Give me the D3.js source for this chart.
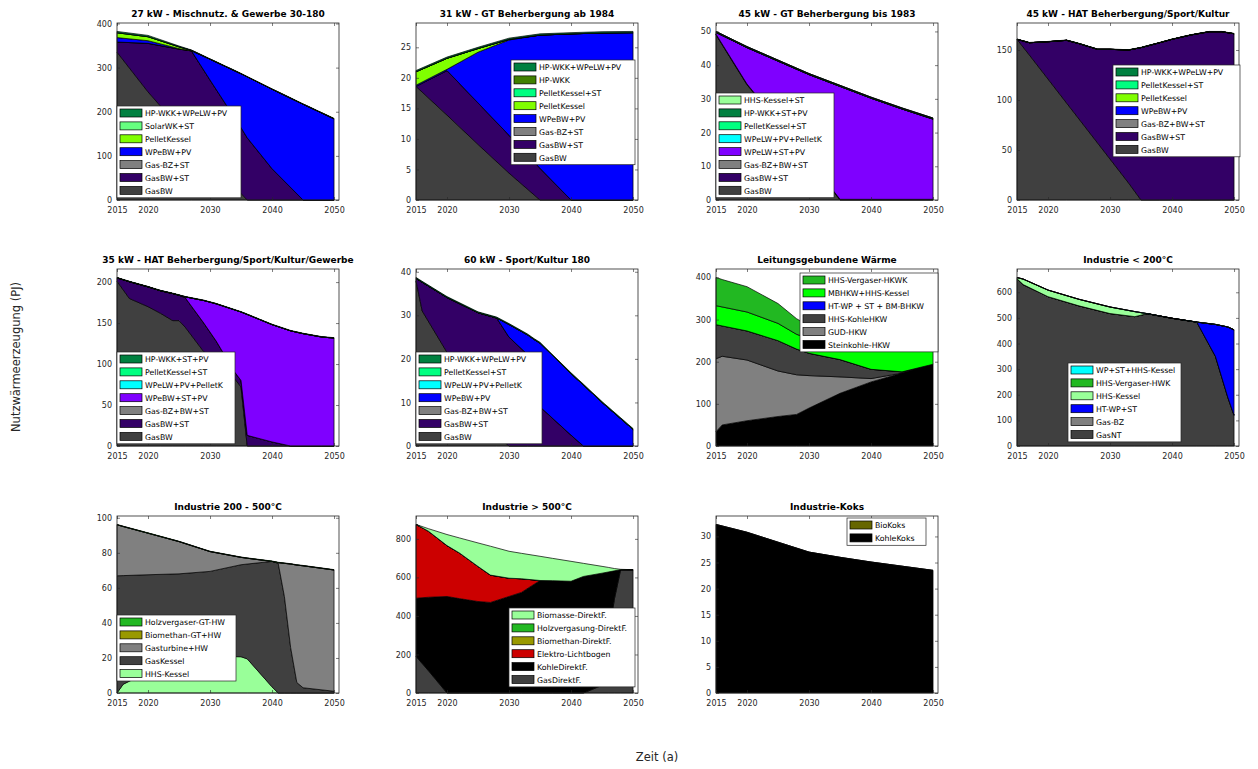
<!DOCTYPE html>
<html><head><meta charset="utf-8">
<script src="https://cdn.jsdelivr.net/npm/d3@7"></script>
<style>
body{margin:0;background:#fff;}
svg{display:block;}
text{font-family:"DejaVu Sans","Liberation Sans",sans-serif;}
</style>
</head><body>
<svg id="chart" width="1258" height="769"></svg>
<script>
// ---------------- DATA (stack order: bottom first) ----------------
const xTicks = [2015, 2020, 2030, 2040, 2050];

// Panel 1
const p1Title = "27 kW - Mischnutz. & Gewerbe 30-180";
const p1Years = [2015, 2020, 2025, 2027, 2030, 2035, 2036, 2040, 2045, 2050];
const p1GasBW    = [335, 245, 165, 135, 90, 15, 0, 0, 0, 0];
const p1GasBWST  = [23, 110, 177, 203, 182, 149, 141, 71, 0, 0];
const p1GasBZST  = [0, 0, 0, 0, 0, 0, 0, 0, 0, 0];
const p1WPeBWPV  = [10, 6, 1, 0, 47, 122, 138, 180, 217, 184];
const p1Pellet   = [11, 9, 4, 1, 0, 0, 0, 0, 0, 0];
const p1Solar    = [0, 0, 0, 0, 0, 0, 0, 0, 0, 0];
const p1HPWKK    = [3, 3, 2, 1, 1, 1, 1, 1, 1, 1];
const p1Labels = ["GasBW", "GasBW+ST", "Gas-BZ+ST", "WPeBW+PV", "PelletKessel", "SolarWK+ST", "HP-WKK+WPeLW+PV"];
const p1YTicks = [0, 100, 200, 300, 400];

// Panel 2
const p2Title = "31 kW - GT Beherbergung ab 1984";
const p2Years = [2015, 2020, 2025, 2030, 2035, 2040, 2045, 2050];
const p2GasBW    = [18.6, 13.9, 9.1, 4.4, 0, 0, 0, 0];
const p2GasBWST  = [0, 7.3, 6.8, 6.2, 5.2, 0, 0, 0];
const p2GasBZST  = [0, 0, 0, 0, 0, 0, 0, 0];
const p2WPeBWPV  = [0.2, 0.2, 8.3, 15.6, 21.8, 27.2, 27.35, 27.4];
const p2Pellet   = [2.2, 1.8, 0.6, 0.1, 0, 0, 0, 0];
const p2PelletST = [0, 0, 0, 0, 0, 0, 0, 0];
const p2HPWKK    = [0, 0, 0, 0, 0, 0, 0, 0];
const p2HPWKKWP  = [0.2, 0.2, 0.2, 0.2, 0.2, 0.2, 0.2, 0.2];
const p2Labels = ["GasBW", "GasBW+ST", "Gas-BZ+ST", "WPeBW+PV", "PelletKessel", "PelletKessel+ST", "HP-WKK", "HP-WKK+WPeLW+PV"];
const p2YTicks = [0, 5, 10, 15, 20, 25];

// Panel 3
const p3Title = "45 kW - GT Beherbergung bis 1983";
const p3Years = [2015, 2020, 2025, 2030, 2035, 2040, 2045, 2050];
const p3GasBW    = [49, 34.2, 23, 11.8, 0, 0, 0, 0];
const p3GasBWST  = [0.2, 0.2, 0.2, 0.2, 0.2, 0.2, 0.2, 0.2];
const p3GasBZ    = [0, 0, 0, 0, 0, 0, 0, 0];
const p3WPeLWST  = [0.5, 10.8, 18, 25.2, 33.5, 30, 26.8, 23.8];
const p3WPeLWPel = [0, 0, 0, 0, 0, 0, 0, 0];
const p3PelletST = [0, 0, 0, 0, 0, 0, 0, 0];
const p3HPWKK    = [0.3, 0.3, 0.3, 0.3, 0.3, 0.3, 0.3, 0.3];
const p3HHSST    = [0, 0, 0, 0, 0, 0, 0, 0];
const p3Labels = ["GasBW", "GasBW+ST", "Gas-BZ+BW+ST", "WPeLW+ST+PV", "WPeLW+PV+PelletK", "PelletKessel+ST", "HP-WKK+ST+PV", "HHS-Kessel+ST"];
const p3YTicks = [0, 10, 20, 30, 40, 50];

// Panel 4
const p4Title = "45 kW - HAT Beherbergung/Sport/Kultur";
const p4Years = [2015, 2017, 2020, 2023, 2025, 2028, 2030, 2033, 2035, 2038, 2040, 2043, 2046, 2048, 2050];
const p4GasBW    = [160.7, 145, 121, 97, 81, 57, 41, 17, 0, 0, 0, 0, 0, 0, 0];
const p4GasBWST  = [0, 12.3, 37.3, 62.7, 75.4, 93.7, 109.7, 133, 152.4, 157.3, 160.7, 165, 168.3, 168.3, 166.3];
const p4GasBZ    = [0, 0, 0, 0, 0, 0, 0, 0, 0, 0, 0, 0, 0, 0, 0];
const p4WPeBWPV  = [0, 0, 0, 0, 0, 0, 0, 0, 0, 0, 0, 0, 0, 0, 0];
const p4Pellet   = [0, 0, 0, 0, 0, 0, 0, 0, 0, 0, 0, 0, 0, 0, 0];
const p4PelletST = [0, 0, 0, 0, 0, 0, 0, 0, 0, 0, 0, 0, 0, 0, 0];
const p4HPWKK    = [0.3, 0.3, 0.3, 0.3, 0.3, 0.3, 0.3, 0.3, 0.3, 0.3, 0.3, 0.3, 0.3, 0.3, 0.3];
const p4Labels = ["GasBW", "GasBW+ST", "Gas-BZ+BW+ST", "WPeBW+PV", "PelletKessel", "PelletKessel+ST", "HP-WKK+WPeLW+PV"];
const p4YTicks = [0, 50, 100, 150];

// Panel 5
const p5Title = "35 kW - HAT Beherbergung/Sport/Kultur/Gewerbe";
const p5Years = [2015, 2017, 2020, 2022, 2024, 2025, 2026, 2029, 2031, 2034, 2035, 2036, 2040, 2043, 2045, 2048, 2050];
const p5GasBW    = [201, 180, 170, 162, 153, 153, 145, 115, 105, 82, 72, 0, 0, 0, 0, 0, 0];
const p5GasBWST  = [4.2, 20.5, 24.2, 27.5, 33, 31, 36, 35, 23, 8, 8, 13, 5, 0, 0, 0, 0];
const p5GasBZ    = [0, 0, 0, 0, 0, 0, 0, 0, 0, 0, 0, 0, 0, 0, 0, 0, 0];
const p5WPeBWST  = [0, 0, 0, 0, 0, 0, 1, 27.5, 45.5, 76, 83.5, 147.5, 143.1, 140.5, 137.1, 133, 131.7];
const p5WPeLWPel = [0, 0, 0, 0, 0, 0, 0, 0, 0, 0, 0, 0, 0, 0, 0, 0, 0];
const p5PelletST = [0, 0, 0, 0, 0, 0, 0, 0, 0, 0, 0, 0, 0, 0, 0, 0, 0];
const p5HPWKK    = [0.5, 0.5, 0.5, 0.5, 0.5, 0.5, 0.5, 0.5, 0.5, 0.5, 0.5, 0.5, 0.5, 0.5, 0.5, 0.5, 0.5];
const p5Labels = ["GasBW", "GasBW+ST", "Gas-BZ+BW+ST", "WPeBW+ST+PV", "WPeLW+PV+PelletK", "PelletKessel+ST", "HP-WKK+ST+PV"];
const p5YTicks = [0, 50, 100, 150, 200];

// Panel 6
const p6Title = "60 kW - Sport/Kultur 180";
const p6Years = [2015, 2016, 2020, 2025, 2028, 2030, 2033, 2034, 2035, 2040, 2042, 2045, 2050];
const p6GasBW    = [37.9, 31, 21.5, 10, 2.5, 0, 0, 0, 0, 0, 0, 0, 0];
const p6GasBWST  = [0.6, 6.6, 12.6, 20.6, 26.9, 25, 21, 18, 9, 2.5, 0, 0, 0];
const p6GasBZ    = [0, 0, 0, 0, 0, 0, 0, 0, 0, 0, 0, 0, 0];
const p6WPeBWPV  = [0, 0, 0, 0, 0, 2.9, 4.5, 6.5, 14.6, 14.1, 14, 10, 3.8];
const p6WPeLWPel = [0, 0, 0, 0, 0, 0, 0, 0, 0, 0, 0, 0, 0];
const p6PelletST = [0, 0, 0, 0, 0, 0, 0, 0, 0, 0, 0, 0, 0];
const p6HPWKK    = [0.2, 0.2, 0.2, 0.2, 0.2, 0.2, 0.2, 0.2, 0.2, 0.2, 0.2, 0.2, 0.2];
const p6Labels = ["GasBW", "GasBW+ST", "Gas-BZ+BW+ST", "WPeBW+PV", "WPeLW+PV+PelletK", "PelletKessel+ST", "HP-WKK+WPeLW+PV"];
const p6YTicks = [0, 10, 20, 30, 40];

// Panel 7
const p7Title = "Leitungsgebundene Wärme";
const p7Years = [2015, 2016, 2020, 2025, 2028, 2030, 2035, 2040, 2045, 2050];
const p7Steinkohle = [34, 50, 60, 70, 75, 90, 125, 152, 173, 194];
const p7GUD        = [173, 163, 144, 108, 94, 77, 39, 8, 0, 0];
const p7HHSKohle   = [81, 72, 69, 72, 61, 53, 41, 22, 3, 0];
const p7HTWP       = [0, 0, 0, 0, 0, 0, 0, 0, 0, 0];
const p7MBHKW      = [45, 45, 45, 41, 35, 35, 40, 56, 59, 41];
const p7HHSVerg    = [67, 65, 60, 47, 37, 30, 20, 10, 5, 5];
const p7Labels = ["Steinkohle-HKW", "GUD-HKW", "HHS-KohleHKW", "HT-WP + ST + BM-BHKW", "MBHKW+HHS-Kessel", "HHS-Vergaser-HKWK"];
const p7YTicks = [0, 100, 200, 300, 400];

// Panel 8
const p8Title = "Industrie < 200°C";
const p8Years = [2015, 2016, 2020, 2025, 2030, 2034, 2036, 2040, 2044, 2047, 2049, 2050];
const p8GasNT     = [653, 630, 583, 547, 517, 505, 516.5, 498.5, 483.5, 350, 190, 120];
const p8GasBZ     = [0, 0, 0, 0, 0, 0, 0, 0, 0, 0, 0, 0];
const p8HTWP      = [0, 0, 0, 0, 0, 0, 0, 0, 0, 124.5, 274.5, 333.5];
const p8HHSKessel = [4.5, 21.5, 25.5, 25.5, 25.5, 19.5, 0, 0, 0, 0, 0, 0];
const p8HHSVerg   = [0, 0, 0, 0, 0, 0, 0, 0, 0, 0, 0, 0];
const p8WPSTHHS   = [0.5, 0.5, 0.5, 0.5, 0.5, 0.5, 0.5, 0.5, 0.5, 0.5, 0.5, 0.5];
const p8Labels = ["GasNT", "Gas-BZ", "HT-WP+ST", "HHS-Kessel", "HHS-Vergaser-HWK", "WP+ST+HHS-Kessel"];
const p8YTicks = [0, 100, 200, 300, 400, 500, 600];

// Panel 9
const p9Title = "Industrie 200 - 500°C";
const p9Years = [2015, 2016, 2020, 2025, 2030, 2035, 2036, 2040, 2041, 2042, 2043, 2044, 2045, 2050];
const p9HHSKessel  = [0, 5, 12, 19, 21, 20.7, 19.5, 3.5, 0, 0, 0, 0, 0, 0];
const p9GasKessel  = [66.9, 62, 55.5, 49, 48.4, 52.5, 54.1, 71.6, 74, 55, 26, 6, 3, 1];
const p9Gasturbine = [29.1, 28, 23.7, 18.4, 11.3, 4.2, 3.3, 0, 0.4, 19, 47.6, 67, 69.6, 69.2];
const p9Biomethan  = [0, 0, 0, 0, 0, 0, 0, 0, 0, 0, 0, 0, 0, 0];
const p9Holzverg   = [0.2, 0.2, 0.2, 0.2, 0.2, 0.2, 0.2, 0.2, 0.2, 0.2, 0.2, 0.2, 0.2, 0.2];
const p9Labels = ["HHS-Kessel", "GasKessel", "Gasturbine+HW", "Biomethan-GT+HW", "Holzvergaser-GT-HW"];
const p9YTicks = [0, 20, 40, 60, 80, 100];

// Panel 10
const p10Title = "Industrie > 500°C";
const p10Years = [2015, 2017, 2020, 2022, 2025, 2027, 2030, 2032, 2035, 2037, 2040, 2042, 2045, 2046, 2047, 2048, 2050];
const p10Gas      = [190, 116, 0, 0, 0, 0, 0, 0, 0, 0, 0, 0, 40, 280, 489, 640, 640];
const p10Kohle    = [302, 381, 501, 490, 475, 470, 501, 522, 584, 583, 580, 605, 582, 348, 145, 0, 0];
const p10Elektro  = [383, 343, 264, 237, 182, 142, 95, 71, 0, 0, 0, 0, 0, 0, 0, 0, 0];
const p10Biomethan= [0, 0, 0, 0, 0, 0, 0, 0, 0, 0, 0, 0, 0, 0, 0, 0, 0];
const p10Holzverg = [0, 0, 0, 0, 0, 0, 0, 0, 0, 0, 0, 0, 0, 0, 0, 0, 0];
const p10Biomasse = [0, 13, 57.6, 78, 122, 150, 139.7, 132, 125.6, 116, 103.5, 68, 35.4, 24, 12, 2, 0];
const p10Labels = ["GasDirektF.", "KohleDirektF.", "Elektro-Lichtbogen", "Biomethan-DirektF.", "Holzvergasung-DirektF.", "Biomasse-DirektF."];
const p10YTicks = [0, 200, 400, 600, 800];

// Panel 11
const p11Title = "Industrie-Koks";
const p11Years = [2015, 2020, 2025, 2030, 2035, 2040, 2045, 2050];
const p11KohleKoks = [32.3, 30.8, 28.9, 27, 26, 25.1, 24.3, 23.5];
const p11BioKoks   = [0, 0, 0, 0, 0, 0, 0, 0];
const p11Labels = ["KohleKoks", "BioKoks"];
const p11YTicks = [0, 5, 10, 15, 20, 25, 30];

// ---------------- STYLES ----------------
const C = {
  gasbw: "#404040", gasbz: "#808080", gasbwst: "#330066", blue: "#0000ff", violet: "#7f00ff",
  pellet: "#80ff00", pelletst: "#00ff80", solar: "#66ff80", hpwkk: "#008040", hpwkk2: "#408000",
  cyan: "#00ffff", hhs: "#99ff99", green: "#22b822", bright: "#00ff00", black: "#000000",
  olive: "#999900", red: "#cc0000", olive2: "#666600"
};

const panels = [
  {title: p1Title, years: p1Years, series: [p1GasBW, p1GasBWST, p1GasBZST, p1WPeBWPV, p1Pellet, p1Solar, p1HPWKK], labels: p1Labels,
   colors: [C.gasbw, C.gasbwst, C.gasbz, C.blue, C.pellet, C.solar, C.hpwkk], yTicks: p1YTicks},
  {title: p2Title, years: p2Years, series: [p2GasBW, p2GasBWST, p2GasBZST, p2WPeBWPV, p2Pellet, p2PelletST, p2HPWKK, p2HPWKKWP], labels: p2Labels,
   colors: [C.gasbw, C.gasbwst, C.gasbz, C.blue, C.pellet, C.pelletst, C.hpwkk2, C.hpwkk], yTicks: p2YTicks},
  {title: p3Title, years: p3Years, series: [p3GasBW, p3GasBWST, p3GasBZ, p3WPeLWST, p3WPeLWPel, p3PelletST, p3HPWKK, p3HHSST], labels: p3Labels,
   colors: [C.gasbw, C.gasbwst, C.gasbz, C.violet, C.cyan, C.pelletst, C.hpwkk, C.hhs], yTicks: p3YTicks},
  {title: p4Title, years: p4Years, series: [p4GasBW, p4GasBWST, p4GasBZ, p4WPeBWPV, p4Pellet, p4PelletST, p4HPWKK], labels: p4Labels,
   colors: [C.gasbw, C.gasbwst, C.gasbz, C.blue, C.pellet, C.pelletst, C.hpwkk], yTicks: p4YTicks},
  {title: p5Title, years: p5Years, series: [p5GasBW, p5GasBWST, p5GasBZ, p5WPeBWST, p5WPeLWPel, p5PelletST, p5HPWKK], labels: p5Labels,
   colors: [C.gasbw, C.gasbwst, C.gasbz, C.violet, C.cyan, C.pelletst, C.hpwkk], yTicks: p5YTicks},
  {title: p6Title, years: p6Years, series: [p6GasBW, p6GasBWST, p6GasBZ, p6WPeBWPV, p6WPeLWPel, p6PelletST, p6HPWKK], labels: p6Labels,
   colors: [C.gasbw, C.gasbwst, C.gasbz, C.blue, C.cyan, C.pelletst, C.hpwkk], yTicks: p6YTicks},
  {title: p7Title, years: p7Years, series: [p7Steinkohle, p7GUD, p7HHSKohle, p7HTWP, p7MBHKW, p7HHSVerg], labels: p7Labels,
   colors: [C.black, C.gasbz, C.gasbw, C.blue, C.bright, C.green], yTicks: p7YTicks},
  {title: p8Title, years: p8Years, series: [p8GasNT, p8GasBZ, p8HTWP, p8HHSKessel, p8HHSVerg, p8WPSTHHS], labels: p8Labels,
   colors: [C.gasbw, C.gasbz, C.blue, C.hhs, C.green, C.cyan], yTicks: p8YTicks},
  {title: p9Title, years: p9Years, series: [p9HHSKessel, p9GasKessel, p9Gasturbine, p9Biomethan, p9Holzverg], labels: p9Labels,
   colors: [C.hhs, C.gasbw, C.gasbz, C.olive, C.green], yTicks: p9YTicks},
  {title: p10Title, years: p10Years, series: [p10Gas, p10Kohle, p10Elektro, p10Biomethan, p10Holzverg, p10Biomasse], labels: p10Labels,
   colors: [C.gasbw, C.black, C.red, C.olive, C.green, C.hhs], yTicks: p10YTicks},
  {title: p11Title, years: p11Years, series: [p11KohleKoks, p11BioKoks], labels: p11Labels,
   colors: [C.black, C.olive2], yTicks: p11YTicks}
];

// ---------------- LAYOUT ----------------
const colX = [117, 416, 716, 1017];
const rowY = [23, 269, 516];
const W = 222, H = 177;
const xMax = 2050.8;
// legend [dx, dy, width] relative to axes box
const legendPos = [
  [0, 83, 124], [95, 37, 124], [0, 70, 118], [96, 42, 127],
  [0, 83, 118], [0, 83, 126], [84, 4, 138], [51, 94, 113],
  [0, 99, 119], [93, 92, 126], [131, 2, 79]
];
const rowH = 12.9;

const svg = d3.select("#chart");

panels.forEach((p, idx) => {
  const col = idx % 4, row = Math.floor(idx / 4);
  const g = svg.append("g").attr("transform", `translate(${colX[col]},${rowY[row]})`);
  const keys = p.series.map((s, i) => "s" + i);
  const table = p.years.map((yr, j) => {
    const o = {yr};
    p.series.forEach((s, i) => o["s" + i] = s[j]);
    return o;
  });
  const stacked = d3.stack().keys(keys)(table);
  const maxTot = d3.max(stacked[stacked.length - 1], d => d[1]);
  const x = d3.scaleLinear().domain([2015, xMax]).range([0, W]);
  const y = d3.scaleLinear().domain([0, maxTot * 1.05]).range([H, 0]);

  const area = d3.area().x(d => x(d.data.yr)).y0(d => y(d[0])).y1(d => y(d[1]));
  g.selectAll("path.layer").data(stacked).join("path")
    .attr("class", "layer")
    .attr("d", area)
    .attr("fill", (d, i) => p.colors[i])
    .attr("stroke", "#000").attr("stroke-width", 0.7).attr("stroke-linejoin", "round");

  // axes (inward ticks, box)
  const tickStyle = sel => {
    sel.select(".domain").remove();
    sel.selectAll("line").attr("stroke", "#262626").attr("stroke-width", 0.6);
    sel.selectAll("text").attr("fill", "#262626").style("font-size", "8px")
       .style("font-family", '"DejaVu Sans", sans-serif');
  };
  g.append("g").attr("transform", `translate(0,${H})`)
    .call(d3.axisBottom(x).tickValues(xTicks).tickFormat(d3.format("d")).tickSize(-3).tickPadding(7)).call(tickStyle);
  g.append("g")
    .call(d3.axisTop(x).tickValues(xTicks).tickFormat("").tickSize(-3)).call(tickStyle);
  g.append("g")
    .call(d3.axisLeft(y).tickValues(p.yTicks).tickFormat(d3.format("d")).tickSize(-3).tickPadding(5)).call(tickStyle);
  g.append("g").attr("transform", `translate(${W},0)`)
    .call(d3.axisRight(y).tickValues(p.yTicks).tickFormat("").tickSize(-3)).call(tickStyle);
  g.append("rect").attr("x", 0).attr("y", 0).attr("width", W).attr("height", H)
    .attr("fill", "none").attr("stroke", "#262626").attr("stroke-width", 0.8);

  // title
  g.append("text").attr("x", W / 2).attr("y", -6.5).attr("text-anchor", "middle")
    .style("font-size", "9px").style("font-weight", "bold").attr("fill", "#000").text(p.title);

  // legend (top entry = top of stack)
  const [lx, ly, lw] = legendPos[idx];
  const n = p.labels.length;
  const lg = g.append("g").attr("transform", `translate(${lx},${ly})`);
  lg.append("rect").attr("width", lw).attr("height", n * rowH + 1.5)
    .attr("fill", "#fff").attr("stroke", "#262626").attr("stroke-width", 0.7);
  const order = d3.range(n).reverse();
  order.forEach((si, k) => {
    const yy = 3 + k * rowH;
    lg.append("rect").attr("x", 3).attr("y", yy).attr("width", 22).attr("height", 8)
      .attr("fill", p.colors[si]).attr("stroke", "#000").attr("stroke-width", 0.7);
    lg.append("text").attr("x", 28).attr("y", yy + 7.3)
      .style("font-size", "7.8px").attr("fill", "#000").text(p.labels[si]);
  });
});

// global axis labels
svg.append("text").attr("transform", "translate(20,357) rotate(-90)").attr("text-anchor", "middle")
  .style("font-size", "11.5px").attr("fill", "#262626").text("Nutzwärmeerzeugung (PJ)");
svg.append("text").attr("x", 657).attr("y", 761).attr("text-anchor", "middle")
  .style("font-size", "11.5px").attr("fill", "#262626").text("Zeit (a)");
</script>
</body></html>
